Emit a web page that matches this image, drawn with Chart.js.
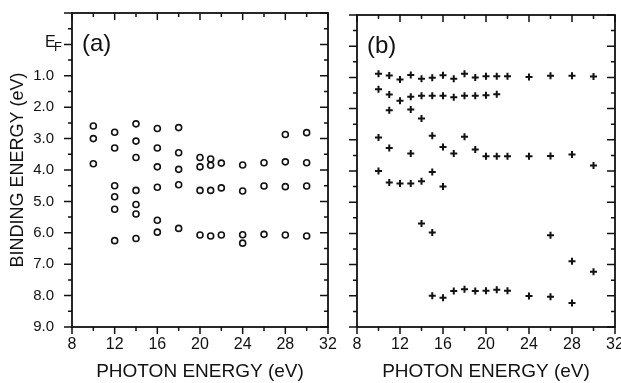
<!DOCTYPE html>
<html>
<head>
<meta charset="utf-8">
<script src="https://cdn.jsdelivr.net/npm/chart.js@4"></script>
<style>
  html, body { margin: 0; padding: 0; background: #fff; overflow: hidden; }
  #wrapA { position: absolute; left: 0; top: 0; width: 340px; height: 383px; }
  #wrapB { position: absolute; left: 330px; top: 0; width: 291px; height: 383px; }
</style>
</head>
<body>
<div id="wrapA"><canvas id="chartA"></canvas></div>
<div id="wrapB"><canvas id="chartB"></canvas></div>
<script>
// photon energies (eV) and the binding energies seen at each one
const photonA = [10, 12, 14, 16, 18, 20, 21, 22, 24, 26, 28, 30];
const bindingA = [
  [2.6, 3.0, 3.8],
  [2.8, 3.3, 4.5, 4.85, 5.25, 6.25],
  [2.53, 3.08, 3.6, 4.65, 5.1, 5.4, 6.18],
  [2.68, 3.3, 3.9, 4.55, 5.6, 5.98],
  [2.65, 3.45, 3.98, 4.47, 5.86],
  [3.6, 3.9, 4.65, 6.07],
  [3.65, 3.85, 4.65, 6.1],
  [3.78, 4.57, 6.07],
  [3.84, 4.67, 6.06, 6.33],
  [3.77, 4.51, 6.05],
  [2.87, 3.74, 4.53, 6.07],
  [2.81, 3.77, 4.51, 6.1]
];

const photonB = [10, 11, 12, 13, 14, 15, 16, 17, 18, 19, 20, 21, 22, 24, 26, 28, 30];
const bindingB = [
  [0.88, 1.38, 2.93, 4.0],
  [0.94, 1.55, 2.05, 3.26, 4.37],
  [1.07, 1.75, 4.4],
  [0.92, 1.62, 2.03, 3.44, 4.4],
  [1.04, 1.59, 2.32, 4.33, 5.68],
  [1.01, 1.59, 2.87, 4.03, 5.97, 8.0],
  [0.93, 1.59, 3.23, 4.5, 8.06],
  [1.04, 1.64, 3.44, 7.85],
  [0.88, 1.59, 2.9, 7.79],
  [1.0, 1.59, 3.31, 7.85],
  [0.96, 1.57, 3.53, 7.84],
  [0.96, 1.54, 3.53, 7.81],
  [0.96, 3.53, 7.84],
  [0.99, 3.53, 8.01],
  [0.95, 3.52, 6.06, 8.03],
  [0.95, 3.47, 6.89, 8.23],
  [0.97, 3.82, 7.23]
];

const xMin = 8, xMax = 32;
const yMin = -1, yMax = 9;
const xTickLabels = [8, 12, 16, 20, 24, 28, 32];
const yTickLabels = ['', 'E', '1.0', '2.0', '3.0', '4.0', '5.0', '6.0', '7.0', '8.0', '9.0'];

const FONT = "'Liberation Sans', Arial, sans-serif";
const INK = '#111';

function toPoints(xs, ys) {
  const pts = [];
  xs.forEach((x, i) => ys[i].forEach(y => pts.push({ x: x, y: y })));
  return pts;
}

// frame, inward/outward tick marks, E_F label and panel letter
function framePlugin(letter, yLabels) {
  return {
    id: 'frame',
    afterDraw(chart) {
      const ctx = chart.ctx;
      const a = chart.chartArea;
      const xs = chart.scales.x, ys = chart.scales.y;
      ctx.save();
      ctx.strokeStyle = INK;
      ctx.lineWidth = 1.8;
      ctx.strokeRect(a.left, a.top, a.right - a.left, a.bottom - a.top);
      ctx.lineWidth = 1.5;
      ctx.beginPath();
      for (let v = xMin; v <= xMax; v += 2) {
        const px = xs.getPixelForValue(v);
        const len = v % 4 === 0 ? 7 : 4;
        ctx.moveTo(px, a.bottom); ctx.lineTo(px, a.bottom + len);
        ctx.moveTo(px, a.top); ctx.lineTo(px, a.top + len);
      }
      for (let v = yMin; v <= yMax; v += 0.5) {
        const py = ys.getPixelForValue(v);
        const len = Number.isInteger(v) ? 8 : 4;
        ctx.moveTo(a.left, py); ctx.lineTo(a.left - len, py);
        ctx.moveTo(a.right, py); ctx.lineTo(a.right - len, py);
      }
      ctx.stroke();
      ctx.fillStyle = INK;
      if (yLabels) {
        const py = ys.getPixelForValue(0);
        ctx.textAlign = 'left';
        ctx.textBaseline = 'middle';
        ctx.font = '16px ' + FONT;
        ctx.fillText('E', a.left - 27, py - 2);
        ctx.font = '13px ' + FONT;
        ctx.fillText('F', a.left - 18, py + 3);
      }
      ctx.font = '24px ' + FONT;
      ctx.textAlign = 'left';
      ctx.textBaseline = 'middle';
      ctx.fillText(letter, a.left + 10, ys.getPixelForValue(0));
      ctx.restore();
    }
  };
}

function makeChart(id, points, style, radius, border, letter, yLabels, pad, yWidth) {
  return new Chart(document.getElementById(id), {
    type: 'scatter',
    data: {
      datasets: [{
        data: points,
        pointStyle: style,
        pointRadius: radius,
        pointBorderWidth: border,
        pointBorderColor: INK,
        pointBackgroundColor: 'rgba(0,0,0,0)'
      }]
    },
    options: {
      responsive: true,
      maintainAspectRatio: false,
      animation: false,
      layout: { padding: pad },
      plugins: { legend: { display: false }, tooltip: { enabled: false } },
      scales: {
        x: {
          type: 'linear', min: xMin, max: xMax,
          grid: { display: false },
          border: { display: false },
          afterBuildTicks: s => { s.ticks = xTickLabels.map(v => ({ value: v })); },
          ticks: { color: INK, font: { family: FONT, size: 16 }, padding: 0, maxRotation: 0,
                   callback: v => String(v) },
          title: { display: true, text: 'PHOTON ENERGY (eV)', color: INK,
                   font: { family: FONT, size: 19 }, padding: { top: 8, bottom: 0 } },
          afterFit: s => { s.height = 56; s.paddingLeft = 0; s.paddingRight = 0; }
        },
        y: {
          type: 'linear', min: yMin, max: yMax, reverse: true,
          grid: { display: false },
          border: { display: false },
          afterBuildTicks: s => { s.ticks = yTickLabels.map((t, i) => ({ value: yMin + i })); },
          ticks: { display: yLabels, color: INK, font: { family: FONT, size: 15 }, padding: 10,
                   callback: (v, i) => (i <= 1 ? '' : yTickLabels[i]) },
          title: { display: yLabels, text: 'BINDING ENERGY (eV)', color: INK,
                   font: { family: FONT, size: 18 }, padding: { top: 7, bottom: 4 } },
          afterFit: s => { s.width = yWidth; s.paddingTop = 0; s.paddingBottom = 0; }
        }
      }
    },
    plugins: [framePlugin(letter, yLabels)]
  });
}

makeChart('chartA', toPoints(photonA, bindingA), 'circle', 3, 1.6, '(a)', true,
  { top: 13, right: 12, left: 0, bottom: 0 }, 72);
makeChart('chartB', toPoints(photonB, bindingB), 'cross', 3.5, 2, '(b)', false,
  { top: 15, right: 6, left: 0, bottom: 0 }, 27);
</script>
</body>
</html>
